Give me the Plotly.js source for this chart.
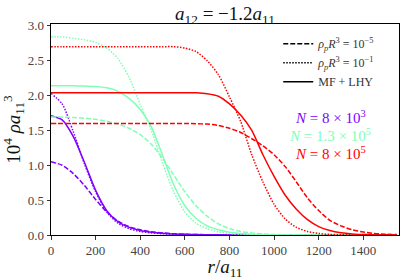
<!DOCTYPE html>
<html>
<head>
<meta charset="utf-8">
<script src="https://cdn.plot.ly/plotly-3.0.1.min.js"></script>
<style>html,body{margin:0;padding:0;background:#fff;}#plot{width:407px;height:280px;}</style>
</head>
<body>
<div id="plot"></div>
<script>
// radial grid r/a11
const r = [0,50,100,150,200,250,300,350,400,450,500,550,600,650,700,750,800,850,900,950,1000,1050,1100,1150,1200,1250,1300,1350,1400,1450,1500,1550];

// N = 8e3 (purple)
const purpleSolid  = [1.71,1.65,1.41,1.04,0.64,0.35,0.19,0.11,0.065,0.04,0.025,0.015,0.01,0.006,0.004,0.002,0.001,0,0,0,0,0,0,0,0,0,0,0,0,0,0,0];
const purpleDashed = [1.05,1.00,0.88,0.71,0.51,0.33,0.20,0.12,0.075,0.045,0.03,0.018,0.011,0.007,0.004,0.002,0.001,0,0,0,0,0,0,0,0,0,0,0,0,0,0,0];
const purpleDotted = [2.03,1.88,1.48,1.02,0.62,0.33,0.17,0.09,0.05,0.03,0.018,0.01,0.006,0.003,0.002,0.001,0,0,0,0,0,0,0,0,0,0,0,0,0,0,0,0];

// N = 1.3e5 (green)
const greenSolid  = [2.14,2.14,2.14,2.135,2.13,2.11,2.06,1.96,1.80,1.55,1.14,0.72,0.42,0.24,0.13,0.075,0.04,0.022,0.012,0.006,0.003,0.001,0,0,0,0,0,0,0,0,0,0];
const greenDashed = [1.69,1.69,1.685,1.675,1.66,1.63,1.59,1.53,1.44,1.30,1.10,0.86,0.62,0.42,0.27,0.16,0.09,0.05,0.028,0.015,0.008,0.004,0.002,0.001,0,0,0,0,0,0,0,0];
const greenDotted = [2.84,2.84,2.82,2.80,2.76,2.68,2.53,2.26,1.87,1.50,1.03,0.62,0.33,0.17,0.09,0.045,0.022,0.01,0.005,0.002,0,0,0,0,0,0,0,0,0,0,0,0];

// N = 8e5 (red)
const redSolid  = [2.04,2.04,2.04,2.04,2.04,2.04,2.04,2.04,2.04,2.04,2.04,2.04,2.04,2.038,2.025,1.99,1.88,1.72,1.50,1.15,0.84,0.57,0.37,0.22,0.12,0.065,0.033,0.016,0.008,0.004,0.002,0.001];
const redDashed = [1.60,1.60,1.60,1.60,1.60,1.60,1.60,1.60,1.60,1.60,1.60,1.60,1.60,1.595,1.59,1.57,1.53,1.47,1.38,1.28,1.15,0.98,0.76,0.53,0.35,0.21,0.13,0.075,0.042,0.022,0.012,0.006];
const redDotted = [2.70,2.70,2.70,2.70,2.70,2.70,2.70,2.70,2.70,2.70,2.70,2.70,2.68,2.63,2.50,2.30,1.98,1.63,1.15,0.76,0.44,0.23,0.11,0.05,0.022,0.009,0.004,0.002,0,0,0,0];

const colors = {purple:'#8000ff', green:'#80ffb4', red:'#ff0000'};
const legendLabels = [
  '<i>ρ</i><sub><i>p</i></sub><i>R</i><sup>3</sup> = 10<sup>−5</sup>',
  '<i>ρ</i><sub><i>p</i></sub><i>R</i><sup>3</sup> = 10<sup>−1</sup>',
  'MF + LHY'
];
const nLabels = [
  '<i>N</i> = 8 × 10<sup>3</sup>',
  '<i>N</i> = 1.3 × 10<sup>5</sup>',
  '<i>N</i> = 8 × 10<sup>5</sup>'
];

const DASH = '5px,2px';
const DOT = '1.5px,1.5px';
const FONT = 'Liberation Serif';

function tr(y, color, dash){
  return {x:r, y:y, type:'scatter', mode:'lines', showlegend:false, hoverinfo:'skip',
    line:{color:color, width:1.5, dash:dash, shape:'spline', smoothing:0.7}};
}
const data = [
  tr(purpleDashed, colors.purple, DASH),
  tr(purpleDotted, colors.purple, DOT),
  tr(purpleSolid, colors.purple, 'solid'),
  tr(greenDashed, colors.green, DASH),
  tr(greenDotted, colors.green, DOT),
  tr(greenSolid, colors.green, 'solid'),
  tr(redDashed, colors.red, DASH),
  tr(redDotted, colors.red, DOT),
  tr(redSolid, colors.red, 'solid'),
  {x:[null], y:[null], type:'scatter', mode:'lines', name:legendLabels[0], line:{color:'#000', width:1.5, dash:DASH}},
  {x:[null], y:[null], type:'scatter', mode:'lines', name:legendLabels[1], line:{color:'#000', width:1.5, dash:DOT}},
  {x:[null], y:[null], type:'scatter', mode:'lines', name:legendLabels[2], line:{color:'#000', width:1.5}}
];

const nColors = [colors.purple, colors.green, colors.red];
const nY = [0.559, 0.473, 0.389];
const annotations = nLabels.map((t,i)=>({
  text:t, xref:'paper', yref:'paper', x:0.802, y:nY[i], xanchor:'center', yanchor:'middle',
  showarrow:false, font:{family:FONT, size:15, color:nColors[i]}
}));

const layout = {
  width:407, height:280,
  margin:{l:51, r:8, t:24, b:45},
  paper_bgcolor:'#fff', plot_bgcolor:'#fff',
  font:{family:FONT, size:13, color:'#333'},
  title:{text:'<i>a</i><sub>12</sub> = −1.2<i>a</i><sub>11</sub>', x:0.5, xref:'paper', xanchor:'center',
         y:1-13/280, yref:'container', yanchor:'middle', font:{family:FONT, size:19, color:'#111'}},
  xaxis:{range:[0,1560], dtick:200, tick0:0, showgrid:false, zeroline:false,
         showline:true, mirror:true, linecolor:'#000', linewidth:1,
         ticks:'outside', ticklen:3.5, tickwidth:0.8, tickcolor:'#000',
         tickfont:{family:FONT, size:13, color:'#444'},
         title:{text:'<i>r</i>/<i>a</i><sub>11</sub>', font:{family:FONT, size:19, color:'#111'}, standoff:2}},
  yaxis:{range:[0,3.025], dtick:0.5, tick0:0, tickformat:'.1f', showgrid:false, zeroline:false,
         showline:true, mirror:true, linecolor:'#000', linewidth:1,
         ticks:'outside', ticklen:3.5, tickwidth:0.8, tickcolor:'#000',
         tickfont:{family:FONT, size:13, color:'#444'},
         title:{text:'10<sup>4</sup> <i>ρa</i><sub>11</sub><sup>3</sup>', font:{family:FONT, size:19, color:'#111'}, standoff:4}},
  showlegend:true,
  legend:{x:0.653, y:0.975, xanchor:'left', yanchor:'top', bgcolor:'rgba(0,0,0,0)',
          font:{family:FONT, size:12, color:'#333'}, tracegroupgap:0, itemwidth:30},
  annotations:annotations
};

Plotly.newPlot('plot', data, layout, {staticPlot:true, displayModeBar:false});
</script>
</body>
</html>
